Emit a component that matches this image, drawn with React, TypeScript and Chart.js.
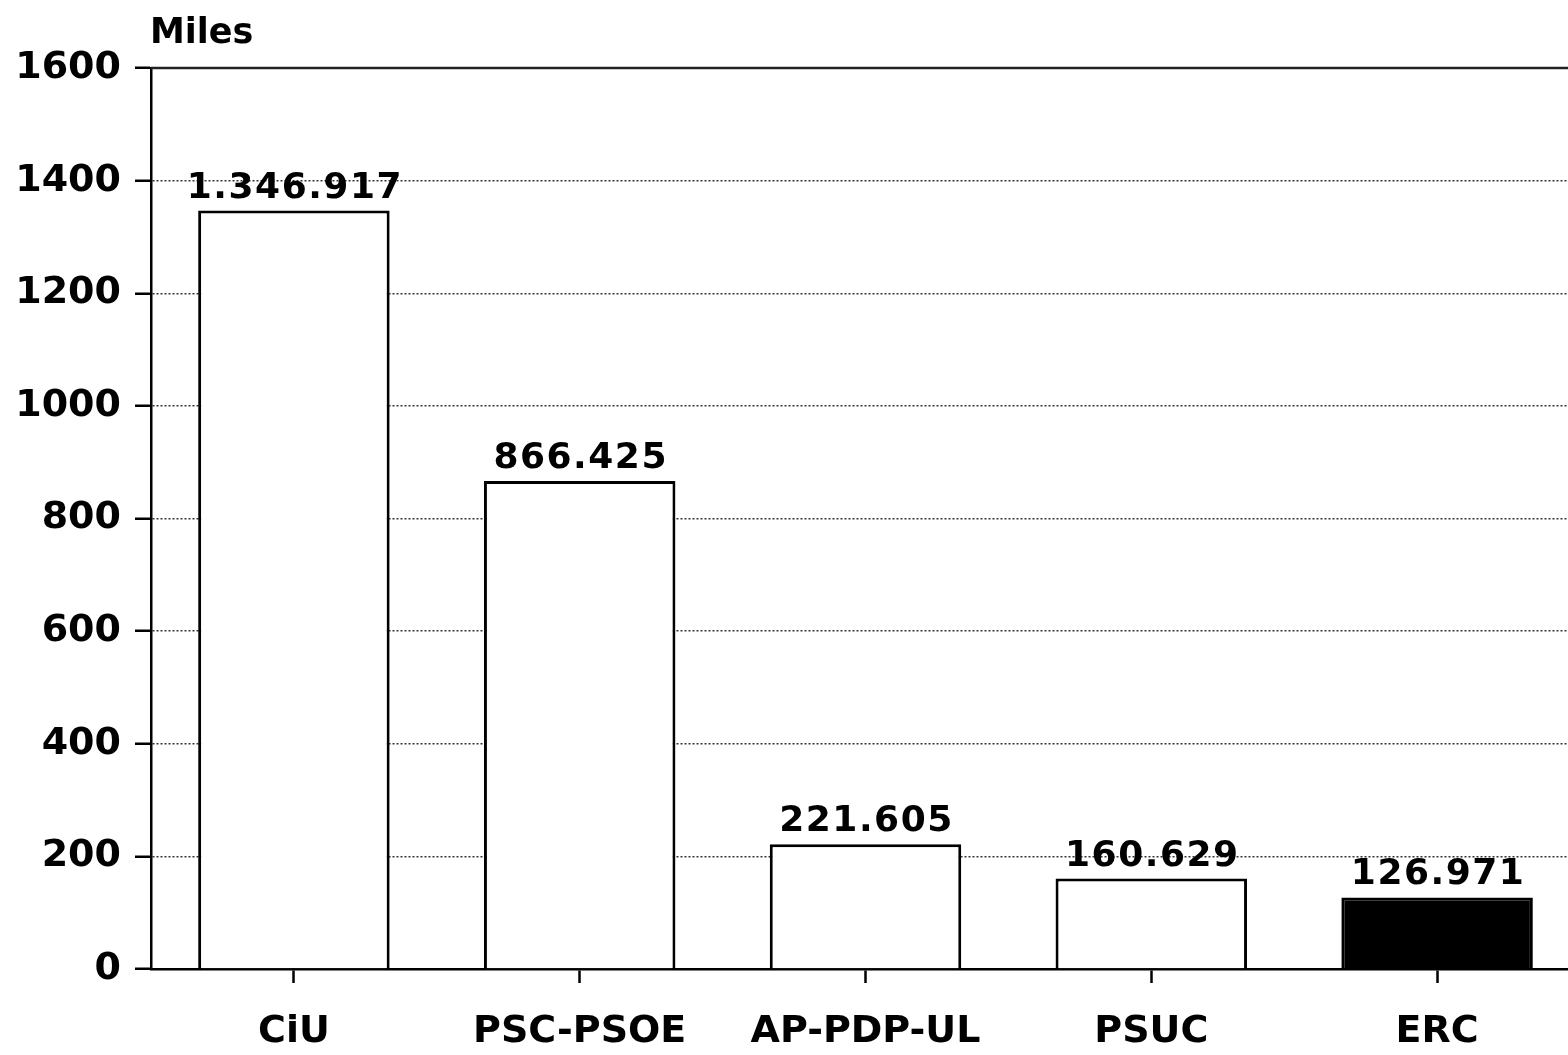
import { useEffect, useRef } from "react";
import { Chart, registerables } from "chart.js";

Chart.register(...registerables);

const categories = ["CiU", "PSC-PSOE", "AP-PDP-UL", "PSUC", "ERC"];
const votesThousands = [1346.917, 866.425, 221.605, 160.629, 126.971];
const valueLabels = ["1.346.917", "866.425", "221.605", "160.629", "126.971"];
const barFills = ["#ffffff", "#ffffff", "#ffffff", "#ffffff", "#000000"];
const yMin = 0;
const yMax = 1600;
const yStep = 200;
const axisTitle = "Miles";

const FONT = '"DejaVu Sans", "Liberation Sans", Arial, sans-serif';

const overlayPlugin = {
  id: "overlay",
  afterDatasetsDraw(chart: any) {
    const { ctx, chartArea } = chart;
    ctx.save();
    // solid top frame line at the max value
    ctx.strokeStyle = "#222";
    ctx.lineWidth = 2.5;
    ctx.beginPath();
    ctx.moveTo(chartArea.left, chartArea.top);
    ctx.lineTo(chartArea.right, chartArea.top);
    ctx.stroke();

    // value labels
    const meta = chart.getDatasetMeta(0);
    ctx.fillStyle = "#000";
    ctx.font = `bold 36px ${FONT}`;
    ctx.textAlign = "center";
    ctx.textBaseline = "alphabetic";
    try { (ctx as any).letterSpacing = "1.5px"; } catch (e) {}
    meta.data.forEach((bar: any, i: number) => {
      ctx.fillText(valueLabels[i], bar.x + 1, bar.y - 13);
    });
    try { (ctx as any).letterSpacing = "0px"; } catch (e) {}

    // axis title
    ctx.font = `bold 35px ${FONT}`;
    ctx.textAlign = "left";
    ctx.fillText(axisTitle, chartArea.left - 1, 43);
    ctx.restore();
  },
};

export default function App() {
  const canvasRef = useRef<HTMLCanvasElement | null>(null);

  useEffect(() => {
    const canvas = canvasRef.current;
    if (!canvas) return;
    const chart = new Chart(canvas, {
      type: "bar",
      data: {
        labels: categories,
        datasets: [
          {
            data: votesThousands,
            backgroundColor: barFills,
            borderColor: "#000",
            borderWidth: 3,
            categoryPercentage: 1,
            barPercentage: 0.67,
          },
        ],
      },
      options: {
        responsive: false,
        animation: false,
        devicePixelRatio: 1,
        layout: { padding: { top: 68, right: 20, left: 0, bottom: 0 } },
        plugins: {
          legend: { display: false },
          tooltip: { enabled: false },
          title: { display: false },
        },
        scales: {
          x: {
            grid: {
              display: true,
              drawOnChartArea: false,
              drawTicks: true,
              tickLength: 14,
              offset: false,
              color: "#000",
              tickColor: "#000",
              tickWidth: 2.5,
            },
            border: { display: true, color: "#000", width: 2.5 },
            ticks: {
              color: "#000",
              font: { family: FONT, size: 38, weight: "bold" },
              padding: 26,
              maxRotation: 0,
              autoSkip: false,
            },
            afterFit: (scale: any) => {
              scale.height = 86;
            },
          },
          y: {
            min: yMin,
            max: yMax,
            ticks: {
              stepSize: yStep,
              color: "#000",
              font: { family: FONT, size: 38, weight: "bold" },
              padding: 14,
              callback: (v: any) => String(v),
            },
            grid: {
              color: (c: any) =>
                c.tick && (c.tick.value === yMax || c.tick.value === yMin) ? "rgba(0,0,0,0)" : "#333",
              lineWidth: 1.5,
              tickLength: 16,
              tickColor: "#000",
              tickWidth: 2.5,
            },
            border: { display: true, color: "#000", width: 2.5, dash: [2, 2] },
            afterFit: (scale: any) => {
              scale.width = 151;
            },
          },
        },
      },
      plugins: [overlayPlugin],
    });
    return () => chart.destroy();
  }, []);

  return (
    <div
      style={{
        position: "fixed",
        left: 0,
        top: 0,
        width: 1568,
        height: 1055,
        overflow: "hidden",
        background: "#fff",
      }}
    >
      <canvas ref={canvasRef} width={1600} height={1055} style={{ display: "block" }} />
    </div>
  );
}
